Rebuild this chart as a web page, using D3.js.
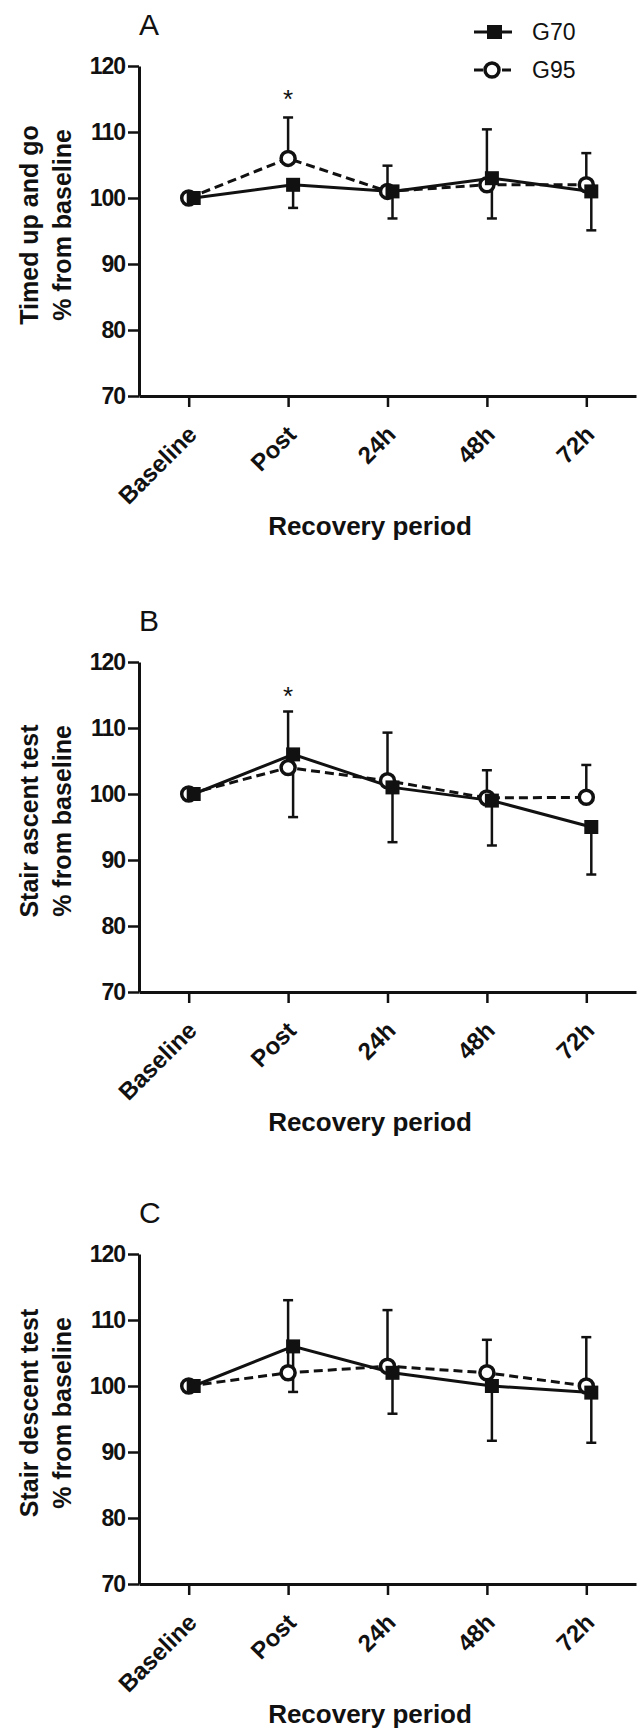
<!DOCTYPE html>
<meta charset="utf-8">
<style>
  body { margin: 0; background: #fff; }
  text { font-family: "Liberation Sans", Arial, sans-serif; fill: #111; }
</style>
<svg width="641" height="1729"></svg>
<script src="https://d3js.org/d3.v7.min.js"></script>
<script>
// categories and ticks
var categories = ["Baseline", "Post", "24h", "48h", "72h"]
var yTicks = [70, 80, 90, 100, 110, 120]
var seriesNames = ["G70", "G95"]

// A: timed up and go (G70 error bars go down, G95 up)
var tugG70 = [100, 102, 101, 103, 101]
var tugG70Sd = [0, 3.5, 4.1, 6.1, 5.9]
var tugG95 = [100, 106, 101, 102, 102]
var tugG95Sd = [0, 6.2, 3.9, 8.4, 4.8]

// B: stair ascent
var ascG70 = [100, 106, 101, 99, 95]
var ascG70Sd = [0, 9.5, 8.3, 6.8, 7.2]
var ascG95 = [100, 104, 102, 99.4, 99.5]
var ascG95Sd = [0, 8.5, 7.3, 4.2, 4.9]

// C: stair descent
var descG70 = [100, 106, 102, 100, 99]
var descG70Sd = [0, 6.9, 6.2, 8.3, 7.6]
var descG95 = [100, 102, 103, 102, 100]
var descG95Sd = [0, 11, 8.5, 5, 7.4]

var panels = [
  { letter: "A", title: ["Timed up and go", "% from baseline"], top: 66, g70: tugG70, g70Sd: tugG70Sd, g95: tugG95, g95Sd: tugG95Sd, star: { cat: "Post", y: 116.6 }, legend: true },
  { letter: "B", title: ["Stair ascent test", "% from baseline"], top: 662, g70: ascG70, g70Sd: ascG70Sd, g95: ascG95, g95Sd: ascG95Sd, star: { cat: "Post", y: 116.4 } },
  { letter: "C", title: ["Stair descent test", "% from baseline"], top: 1254, g70: descG70, g70Sd: descG70Sd, g95: descG95, g95Sd: descG95Sd }
]

var svg = d3.select("svg")
var plotH = 330
var left = 139, right = 636
var g70Shift = 5
var ink = "#111"

var x = d3.scalePoint().domain(categories).range([left, right]).padding(0.5)

panels.forEach(function (p) {
  var y = d3.scaleLinear().domain([70, 120]).range([p.top + plotH, p.top])
  var g = svg.append("g")

  // panel letter
  g.append("text").attr("x", 139).attr("y", p.top - 31)
    .attr("font-size", 30).text(p.letter)

  // y axis
  var ya = g.append("g").attr("transform", "translate(" + left + ",0)")
    .call(d3.axisLeft(y).tickValues(yTicks).tickSize(11).tickSizeOuter(0).tickPadding(3))
  ya.select(".domain").attr("stroke", ink).attr("stroke-width", 3)
  ya.selectAll(".tick line").attr("stroke", ink).attr("stroke-width", 2.5)
  ya.selectAll(".tick text").attr("font-size", 23).attr("font-weight", "bold")
    .attr("letter-spacing", -1).attr("fill", ink)
    .style("font-family", '"Liberation Sans", Arial, sans-serif')

  // x axis
  var xa = g.append("g").attr("transform", "translate(0," + (p.top + plotH) + ")")
    .call(d3.axisBottom(x).tickSize(11).tickSizeOuter(0))
  xa.select(".domain").attr("stroke", ink).attr("stroke-width", 3)
  xa.selectAll(".tick line").attr("stroke", ink).attr("stroke-width", 2.5)
  xa.selectAll(".tick text").attr("font-size", 24).attr("font-weight", "bold")
    .attr("fill", ink).attr("text-anchor", "end")
    .attr("y", 0).attr("dy", 0)
    .attr("transform", "translate(9,40) rotate(-45)")
    .style("font-family", '"Liberation Sans", Arial, sans-serif')

  // axis titles
  var mid = p.top + plotH / 2 - 6
  g.append("text").attr("transform", "translate(38," + mid + ") rotate(-90)")
    .attr("text-anchor", "middle").attr("font-size", 25).attr("font-weight", "bold")
    .text(p.title[0])
  g.append("text").attr("transform", "translate(71," + mid + ") rotate(-90)")
    .attr("text-anchor", "middle").attr("font-size", 25).attr("font-weight", "bold")
    .text(p.title[1])
  g.append("text").attr("x", 370).attr("y", p.top + plotH + 139)
    .attr("text-anchor", "middle").attr("font-size", 26).attr("font-weight", "bold")
    .text("Recovery period")

  // error bars: G95 upward, G70 downward
  categories.forEach(function (c, i) {
    if (p.g95Sd[i] > 0) {
      var bx = x(c)
      g.append("line").attr("x1", bx).attr("x2", bx)
        .attr("y1", y(p.g95[i])).attr("y2", y(p.g95[i] + p.g95Sd[i]))
        .attr("stroke", ink).attr("stroke-width", 2.5)
      g.append("line").attr("x1", bx - 5).attr("x2", bx + 5)
        .attr("y1", y(p.g95[i] + p.g95Sd[i])).attr("y2", y(p.g95[i] + p.g95Sd[i]))
        .attr("stroke", ink).attr("stroke-width", 2.5)
    }
    if (p.g70Sd[i] > 0) {
      var cx = x(c) + g70Shift
      g.append("line").attr("x1", cx).attr("x2", cx)
        .attr("y1", y(p.g70[i])).attr("y2", y(p.g70[i] - p.g70Sd[i]))
        .attr("stroke", ink).attr("stroke-width", 2.5)
      g.append("line").attr("x1", cx - 5).attr("x2", cx + 5)
        .attr("y1", y(p.g70[i] - p.g70Sd[i])).attr("y2", y(p.g70[i] - p.g70Sd[i]))
        .attr("stroke", ink).attr("stroke-width", 2.5)
    }
  })

  // lines
  var line95 = d3.line().x(function (d, i) { return x(categories[i]) }).y(function (d) { return y(d) })
  var line70 = d3.line().x(function (d, i) { return x(categories[i]) + g70Shift }).y(function (d) { return y(d) })
  g.append("path").attr("d", line95(p.g95)).attr("fill", "none")
    .attr("stroke", ink).attr("stroke-width", 3).attr("stroke-dasharray", "9,5")
  g.append("path").attr("d", line70(p.g70)).attr("fill", "none")
    .attr("stroke", ink).attr("stroke-width", 3)

  // markers
  g.selectAll(".m95").data(p.g95).enter().append("circle")
    .attr("cx", function (d, i) { return x(categories[i]) })
    .attr("cy", function (d) { return y(d) })
    .attr("r", 7).attr("fill", "#fff").attr("stroke", ink).attr("stroke-width", 3.5)
  g.selectAll(".m70").data(p.g70).enter().append("rect")
    .attr("x", function (d, i) { return x(categories[i]) + g70Shift - 7 })
    .attr("y", function (d) { return y(d) - 7 })
    .attr("width", 14).attr("height", 14).attr("fill", ink)

  if (p.star) {
    g.append("text").attr("x", x(p.star.cat)).attr("y", y(p.star.y))
      .attr("dy", "0.75em").attr("text-anchor", "middle").attr("font-size", 26)
      .text("*")
  }

  if (p.legend) {
    var lg = g.append("g")
    seriesNames.forEach(function (name, k) {
      var ly = [32, 70][k]
      if (k === 0) {
        lg.append("line").attr("x1", 474).attr("x2", 512).attr("y1", ly).attr("y2", ly)
          .attr("stroke", ink).attr("stroke-width", 3)
        lg.append("rect").attr("x", 487).attr("y", ly - 7).attr("width", 15).attr("height", 14).attr("fill", ink)
      } else {
        lg.append("line").attr("x1", 474).attr("x2", 512).attr("y1", ly).attr("y2", ly)
          .attr("stroke", ink).attr("stroke-width", 3).attr("stroke-dasharray", "9,5")
        lg.append("circle").attr("cx", 492).attr("cy", ly).attr("r", 7)
          .attr("fill", "#fff").attr("stroke", ink).attr("stroke-width", 3.5)
      }
      lg.append("text").attr("x", 532).attr("y", ly + 8).attr("font-size", 23).text(name)
    })
  }
})
</script>
